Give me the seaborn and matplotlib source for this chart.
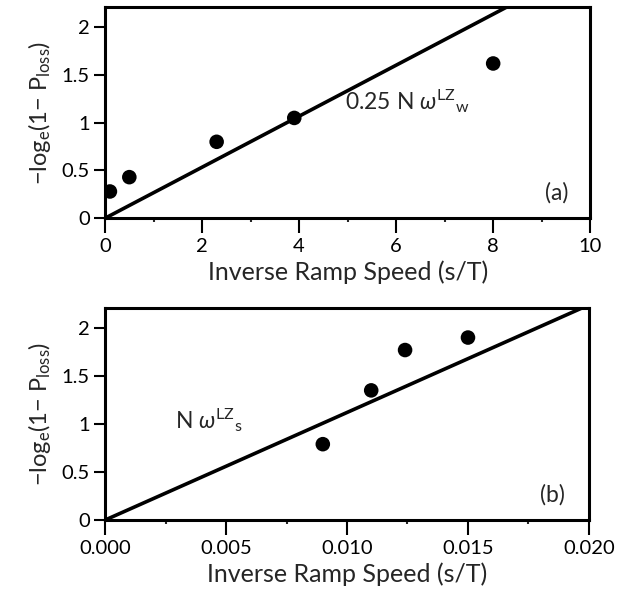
import matplotlib
matplotlib.use("Agg")
import matplotlib.pyplot as plt
import seaborn as sns
import numpy as np
import pandas as pd
from matplotlib.ticker import MultipleLocator

# Panel (a) data
a_x = [0.1, 0.5, 2.3, 3.9, 8.0]
a_y = [0.28, 0.43, 0.80, 1.05, 1.62]
a_line_x = [0.0, 10.0]
a_line_y = [0.0, 2.67]

# Panel (b) data
b_x = [0.0090, 0.0110, 0.0124, 0.0150]
b_y = [0.79, 1.35, 1.77, 1.90]
b_line_x = [0.0, 0.020]
b_line_y = [0.0, 2.24]

sns.set_theme(style="white")
plt.rcParams['font.family'] = ['Lato', 'DejaVu Sans']
plt.rcParams['mathtext.fontset'] = 'custom'
plt.rcParams['mathtext.rm'] = 'Lato'
plt.rcParams['mathtext.it'] = 'Lato:italic'

fig = plt.figure(figsize=(6.18, 5.93), dpi=100)
ax1 = fig.add_axes([0.170, 0.632, 0.785, 0.356])
ax2 = fig.add_axes([0.170, 0.123, 0.783, 0.358])

ylabel = '\u2212log$_\\mathregular{e}$(1\u2212 P$_\\mathregular{loss}$)'

def style(ax):
    for s in ax.spines.values():
        s.set_linewidth(2.2)
        s.set_color('black')
    ax.tick_params(axis='both', which='major', direction='out', length=8, width=1.5,
                   labelsize=14.5, colors='black', bottom=True, left=True, pad=3)
    ax.tick_params(axis='x', which='major', length=11)
    ax.tick_params(axis='x', which='minor', direction='out', length=3, width=1.5, bottom=True)
    ax.set_ylabel(ylabel, fontsize=17, labelpad=6)
    ax.set_xlabel('Inverse Ramp Speed (s/T)', fontsize=18, labelpad=4)
    ax.set_ylim(0, 2.21)

dfa = pd.DataFrame({'x': a_x, 'y': a_y})
dfal = pd.DataFrame({'x': a_line_x, 'y': a_line_y})
sns.lineplot(data=dfal, x='x', y='y', ax=ax1, color='black', linewidth=2.6)
sns.scatterplot(data=dfa, x='x', y='y', ax=ax1, color='black', s=110, edgecolor='none', zorder=3)
ax1.set_xlim(0, 10)
ax1.xaxis.set_major_locator(MultipleLocator(2))
ax1.xaxis.set_minor_locator(MultipleLocator(1))
style(ax1)
ax1.set_yticks([0, 0.5, 1, 1.5, 2])
ax1.set_yticklabels(['0', '0.5', '1', '1.5', '2'])
ax1.text(4.95, 1.23, '0.25 N $\\omega^{\\mathregular{LZ}}{}_{\\mathregular{w}}$', fontsize=16.5, va='center', ha='left')
ax1.text(9.55, 0.27, '(a)', fontsize=16.5, va='center', ha='right')

dfb = pd.DataFrame({'x': b_x, 'y': b_y})
dfbl = pd.DataFrame({'x': b_line_x, 'y': b_line_y})
sns.lineplot(data=dfbl, x='x', y='y', ax=ax2, color='black', linewidth=2.6)
sns.scatterplot(data=dfb, x='x', y='y', ax=ax2, color='black', s=110, edgecolor='none', zorder=3)
ax2.set_xlim(0, 0.020)
ax2.set_xticks([0.0, 0.005, 0.010, 0.015, 0.020])
ax2.set_xticklabels(['0.000', '0.005', '0.010', '0.015', '0.020'])
ax2.xaxis.set_minor_locator(MultipleLocator(0.0025))
style(ax2)
ax2.set_yticks([0, 0.5, 1, 1.5, 2])
ax2.set_yticklabels(['0', '0.5', '1', '1.5', '2'])
ax2.text(0.0029, 1.04, 'N $\\omega^{\\mathregular{LZ}}{}_{\\mathregular{s}}$', fontsize=16.5, va='center', ha='left')
ax2.text(0.0190, 0.26, '(b)', fontsize=16.5, va='center', ha='right')

fig.savefig('out.png', dpi=100)
